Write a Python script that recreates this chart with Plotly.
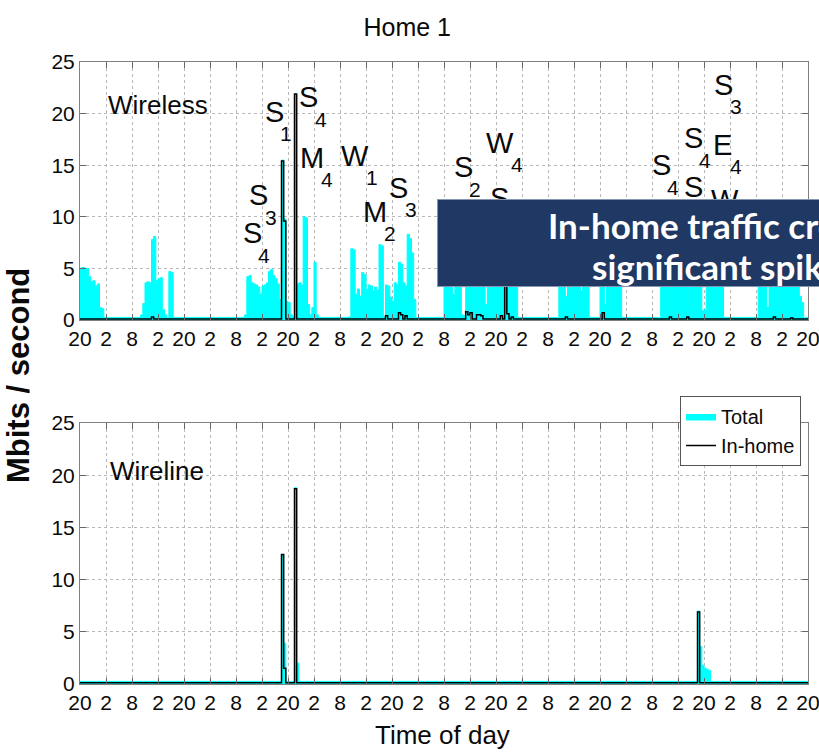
import numpy as np
import plotly.graph_objects as go

# ---------------- data ----------------
STEP = 0.5                      # hours per sample
N_HOURS = 168                   # 7 days, starting at 20:00
tick_hours = list(range(0, 169, 6))
tick_labels = ["20", "2", "8", "2"] * 7 + ["20"]

# Wireless - Total (Mbits/s), bursts of half-hour samples: (start hour, values)
wireless_total_base = 0.25
wl_b1_start, wl_b1 = 0.0, [5.0, 5.1, 4.9, 5.0, 4.2, 3.7, 3.8, 3.3, 3.5, 1.2, 1.1]
wl_b2_start, wl_b2 = 14.0, [0.5, 1.6, 3.6, 3.7, 3.6, 7.8, 8.1, 3.8, 4.0, 4.1, 1.0, 0.5, 0.2, 4.7, 4.6]
wl_b3_start, wl_b3 = 38.0, [0.5, 4.2, 4.3, 3.6, 3.5, 3.4, 3.2, 2.5, 3.3, 3.4, 3.6, 4.7, 4.9, 4.3, 4.0, 3.5,
                            2.0, 15.5, 9.8, 1.8, 1.7, 0.5, 0.3, 21.9, 3.5, 3.6, 3.4, 10.0, 9.9, 1.5, 0.5,
                            1.2, 5.6, 0.5]
wl_b4_start, wl_b4 = 62.0, [0.3, 6.9, 6.8, 2.5, 3.0, 2.3, 4.6, 4.4, 3.0, 3.4, 3.3, 2.8, 3.2, 2.9, 7.3, 7.2,
                            0.3, 3.4, 3.3, 2.2, 1.8, 3.6, 3.4, 5.6, 5.4, 3.6, 3.3, 8.3, 7.9, 6.5, 2.0]
wl_b5_start, wl_b5 = 84.0, [4.5, 5.5, 6.0, 5.0, 2.5, 4.8, 5.5, 4.5, 0.5, 0.4, 5.2, 6.0, 5.5, 6.2, 5.0, 5.8,
                            6.0, 5.5, 4.8, 1.5, 5.0, 6.0, 5.5, 6.2, 5.0, 5.8, 5.0, 4.0, 6.5, 5.0, 5.5, 3.5,
                            5.0, 4.0]
wl_b6_start, wl_b6 = 110.0, [0.2, 5.5, 6.0, 5.0, 2.3, 5.5, 6.0, 5.2, 5.8, 6.0, 5.5, 2.8, 5.0, 5.5, 4.5]
wl_b7_start, wl_b7 = 120.0, [4.8, 5.5, 1.5, 5.0, 5.8, 5.2, 6.0, 5.5, 5.0, 4.5]
wl_b8_start, wl_b8 = 133.5, [0.2, 5.5, 6.0, 5.8, 5.5, 6.0, 5.0, 5.5, 6.0, 5.2, 4.5, 5.8, 6.0, 5.5, 5.0, 6.0,
                             5.5, 5.8, 5.0, 4.5, 0.9, 1.0, 5.5, 6.0, 5.0, 5.5, 6.0, 5.5, 5.0, 4.5]
wl_b9_start, wl_b9 = 156.5, [4.5, 5.0, 5.5, 4.0, 1.2, 5.5, 6.0, 5.0, 5.8, 6.0, 5.5, 4.5, 5.5, 6.0, 5.0, 5.5,
                             4.8, 5.0, 4.0, 2.3, 1.7, 0.2]

# Wireless - In-home (sparse events)
wireless_inhome_base = 0.1
wireless_inhome_hours = [16.5, 46.5, 47.0, 49.5, 70.5, 73.5, 74.0, 75.0, 89.0, 89.5, 90.0, 91.5, 92.0,
                         92.5, 97.0, 98.0, 98.5, 99.5, 112.0, 120.5, 136.0, 140.0, 160.0, 164.0]
wireless_inhome_vals = [0.3, 15.4, 9.6, 21.9, 0.4, 0.7, 0.5, 0.4, 0.8, 0.5, 0.7, 0.5, 0.5,
                        0.4, 0.4, 6.0, 0.6, 0.3, 0.3, 0.7, 0.3, 0.3, 0.3, 0.2]

# Wireline - Total and In-home (sparse events)
wireline_total_base = 0.25
wireline_total_hours = [46.5, 47.0, 49.5, 50.0, 142.5, 143.0, 143.5, 144.0, 144.5, 145.0]
wireline_total_vals = [12.4, 3.9, 18.8, 2.0, 7.0, 3.6, 1.8, 1.5, 1.4, 1.3]
wireline_inhome_base = 0.12
wireline_inhome_hours = [46.5, 47.0, 49.5, 142.5]
wireline_inhome_vals = [12.4, 1.5, 18.7, 6.9]

# event labels (top panel)
label_letter = ["S", "S", "M", "W", "S", "S", "M", "S", "S", "W", "S", "S", "S", "E", "S", "S", "W"]
label_sub = ["1", "4", "4", "1", "3", "4", "2", "3", "2", "4", "4", "4", "4", "4", "3", "4", "4"]
label_hour = [44.8, 52.8, 53.5, 63.5, 41.3, 39.7, 68.1, 73.6, 88.4, 96.9, 96.9, 134.1, 141.5, 148.2,
              148.6, 141.5, 148.9]
label_mbps = [20.2, 21.6, 15.7, 15.9, 12.1, 8.4, 10.5, 12.8, 14.8, 17.2, 11.8, 15.0, 17.6, 17.0,
              22.8, 12.9, 11.6]

callout_lines = ["In-home traffic creates", "significant spikes"]

# ---------------- build series ----------------
t = np.arange(0, N_HOURS + STEP / 2, STEP)


def from_bursts(base, bursts):
    y = np.full(t.shape, base, dtype=float)
    for start, vals in bursts:
        i0 = int(round(start / STEP))
        y[i0:i0 + len(vals)] = vals
    return y


def from_events(base, hours, vals):
    y = np.full(t.shape, base, dtype=float)
    for h, v in zip(hours, vals):
        y[int(round(h / STEP))] = v
    return y


wireless_total = from_bursts(wireless_total_base, [
    (wl_b1_start, wl_b1), (wl_b2_start, wl_b2), (wl_b3_start, wl_b3), (wl_b4_start, wl_b4),
    (wl_b5_start, wl_b5), (wl_b6_start, wl_b6), (wl_b7_start, wl_b7), (wl_b8_start, wl_b8),
    (wl_b9_start, wl_b9)])
wireless_inhome = from_events(wireless_inhome_base, wireless_inhome_hours, wireless_inhome_vals)
wireline_total = from_events(wireline_total_base, wireline_total_hours, wireline_total_vals)
wireline_inhome = from_events(wireline_inhome_base, wireline_inhome_hours, wireline_inhome_vals)

# ---------------- figure ----------------
FONT = "Liberation Sans Narrow, Liberation Sans, Arial, sans-serif"
CYAN = "#00FFFF"
INK = "#0a0a0a"

fig = go.Figure()
for xa, ya, tot, inh, leg in [("x", "y", wireless_total, wireless_inhome, False),
                              ("x2", "y2", wireline_total, wireline_inhome, True)]:
    fig.add_trace(go.Scatter(x=t, y=tot, xaxis=xa, yaxis=ya, mode="lines", name="Total",
                             line=dict(color=CYAN, width=1, shape="hv"), fill="tozeroy",
                             fillcolor=CYAN, showlegend=leg, hoverinfo="skip"))
    fig.add_trace(go.Scatter(x=t, y=inh, xaxis=xa, yaxis=ya, mode="lines", name="In-home",
                             line=dict(color="#000000", width=1.5, shape="hv"),
                             showlegend=leg, hoverinfo="skip"))

W, H = 819, 752
ML, MR, MT, MB = 80, 11, 62, 68
PW, PH = W - ML - MR, H - MT - MB


def px_x(px):
    return (px - ML) / PW


def px_y(py):
    return (H - MB - py) / PH


common = dict(showgrid=True, gridcolor="#b8b8b8", griddash="dot", gridwidth=1,
              ticks="inside", ticklen=6, tickcolor="#666666", showline=True,
              linecolor="#808080", linewidth=1, mirror="ticks", zeroline=False,
              ticklabeloverflow="allow", automargin=False,
              tickfont=dict(family=FONT, size=21, color=INK))
xcommon = dict(common, range=[0, N_HOURS], tickmode="array", tickvals=tick_hours,
               ticktext=tick_labels, tickangle=0)
ycommon = dict(common, range=[0, 25], tickmode="array", tickvals=[0, 5, 10, 15, 20, 25])

fig.update_layout(
    width=W, height=H,
    margin=dict(l=ML, r=MR, t=MT, b=MB, autoexpand=False),
    paper_bgcolor="white", plot_bgcolor="white",
    xaxis=dict(xcommon, domain=[0, 1], anchor="y"),
    yaxis=dict(ycommon, domain=[px_y(320), 1], anchor="x"),
    xaxis2=dict(xcommon, domain=[0, 1], anchor="y2"),
    yaxis2=dict(ycommon, domain=[0, px_y(423)], anchor="x2"),
    title=dict(text="Home 1", x=px_x(442), xanchor="center", y=1 - 27 / H, yanchor="middle",
               font=dict(family=FONT, size=25, color=INK)),
    legend=dict(x=px_x(801), xanchor="right", y=px_y(396), yanchor="top",
                bgcolor="white", bordercolor="#555555", borderwidth=1,
                font=dict(family=FONT, size=20, color=INK),
                tracegroupgap=0),
    showlegend=True,
)

ann = []
ann.append(dict(text="Wireless", xref="paper", yref="paper", x=px_x(106), y=px_y(105),
                xanchor="left", yanchor="middle", showarrow=False,
                font=dict(family=FONT, size=26, color=INK)))
ann.append(dict(text="Wireline", xref="paper", yref="paper", x=px_x(108), y=px_y(471),
                xanchor="left", yanchor="middle", showarrow=False,
                font=dict(family=FONT, size=26, color=INK)))
ann.append(dict(text="Mbits / second", xref="paper", yref="paper", x=px_x(18), y=px_y(376),
                xanchor="center", yanchor="middle", textangle=-90, showarrow=False,
                font=dict(family="Liberation Sans, Arial, sans-serif", size=31, color=INK,
                          weight="bold")))
ann.append(dict(text="Time of day", xref="paper", yref="paper", x=px_x(442), y=px_y(735),
                xanchor="center", yanchor="middle", showarrow=False,
                font=dict(family=FONT, size=26, color=INK)))

sub_dx = {"S": 12, "E": 14, "M": 15, "W": 17}
for L, s, hx, my in zip(label_letter, label_sub, label_hour, label_mbps):
    ann.append(dict(text=L, xref="x", yref="y", x=hx, y=my, xanchor="center", yanchor="middle",
                    showarrow=False, font=dict(family=FONT, size=29, color=INK)))
    ann.append(dict(text=s, xref="x", yref="y", x=hx, y=my, xanchor="center", yanchor="middle",
                    xshift=sub_dx[L], yshift=-22, showarrow=False,
                    font=dict(family=FONT, size=21, color=INK)))

# overlay call-out box (background), then its two text lines
ann.append(dict(text=" ", xref="paper", yref="paper",
                x=px_x(724), y=px_y(243), xanchor="center", yanchor="middle", showarrow=False,
                width=572, height=86, bgcolor="#1F3864", bordercolor="#8496B0", borderwidth=1,
                borderpad=0))
for line, py in zip(callout_lines, [225, 266]):
    ann.append(dict(text=line, xref="paper", yref="paper", x=px_x(724), y=px_y(py),
                    xanchor="center", yanchor="middle", showarrow=False,
                    font=dict(family="Lato, Carlito, Calibri, sans-serif", size=35, color="white",
                              weight="bold")))
fig.update_layout(annotations=ann)

fig.write_html("out.html", config={"displayModeBar": False},
               post_script="document.body.style.margin='0';document.body.style.overflow='hidden';")
